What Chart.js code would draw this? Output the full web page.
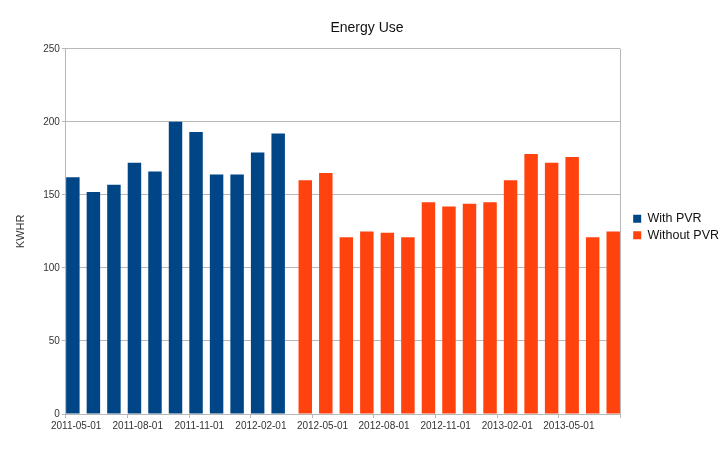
<!DOCTYPE html>
<html>
<head>
<meta charset="utf-8">
<script src="https://cdn.jsdelivr.net/npm/chart.js@4.4.0/dist/chart.umd.min.js"></script>
<style>
	html, body { margin: 0; padding: 0; background: #fff; }
	.container-canvas { width: 723px; height: 449px; }
</style>
</head>
<body>
<div class="container-canvas"><canvas id="myChart"></canvas></div>
<script>
// months from 2011-05 to 2013-07
const months = [
	"2011-05-01", "2011-06-01", "2011-07-01", "2011-08-01", "2011-09-01", "2011-10-01",
	"2011-11-01", "2011-12-01", "2012-01-01", "2012-02-01", "2012-03-01", "2012-04-01",
	"2012-05-01", "2012-06-01", "2012-07-01", "2012-08-01", "2012-09-01", "2012-10-01",
	"2012-11-01", "2012-12-01", "2013-01-01", "2013-02-01", "2013-03-01", "2013-04-01",
	"2013-05-01", "2013-06-01", "2013-07-01"
];
const withPvr = [162, 152, 157, 172, 166, 200, 193, 164, 164, 179, 192,
	null, null, null, null, null, null, null, null, null, null, null, null, null, null, null, null];
const withoutPvr = [null, null, null, null, null, null, null, null, null, null, null,
	160, 165, 121, 125, 124, 121, 145, 142, 144, 145, 160, 178, 172, 176, 121, 125];
const yTicks = [0, 50, 100, 150, 200, 250];

const gridColor = "#b8b8b8";
const textColor = "#333";
Chart.defaults.font.family = "'Liberation Sans', Arial, sans-serif";
Chart.defaults.color = textColor;

// push the legend a bit away from the plot
const legendShift = {
	id: 'legendShift',
	afterLayout(chart) {
		chart.legend.left += 9;
		chart.legend.right += 9;
		chart.legend.top += 10;
		chart.legend.bottom += 10;
	}
};

const ctx = document.getElementById('myChart');
const myChart = new Chart(ctx, {
	type: 'bar',
	data: {
		labels: months,
		datasets: [{
			label: 'With PVR',
			data: withPvr,
			backgroundColor: '#004586',
			borderWidth: 0
		}, {
			label: 'Without PVR',
			data: withoutPvr,
			backgroundColor: '#ff420e',
			borderWidth: 0
		}]
	},
	plugins: [legendShift],
	options: {
		responsive: true,
		maintainAspectRatio: false,
		animation: false,
		datasets: {
			bar: { categoryPercentage: 0.64, barPercentage: 2.05 }
		},
		layout: { padding: { left: 14, right: 3, top: 0, bottom: 15 } },
		plugins: {
			title: {
				display: true,
				text: 'Energy Use',
				color: '#111',
				font: { size: 14, weight: 'normal' },
				padding: { top: 20, bottom: 12 }
			},
			legend: {
				position: 'right',
				labels: {
					boxWidth: 8,
					boxHeight: 8,
					padding: 4,
					color: '#111',
					font: { size: 12.5 }
				}
			},
			tooltip: { enabled: false }
		},
		scales: {
			x: {
				grid: {
					offset: true,
					drawOnChartArea: true,
					color: c => c.index === undefined ? gridColor : 'transparent',
					tickColor: c => (c.index === undefined || c.index % 3 === 0) ? gridColor : 'transparent',
					tickLength: 4
				},
				border: { color: gridColor },
				ticks: {
					autoSkip: false,
					maxRotation: 0,
					padding: 2,
					font: { size: 10 },
					callback: (v, i) => i % 3 === 0 ? months[i] : ''
				}
			},
			y: {
				min: 0,
				max: 250,
				afterBuildTicks: axis => { axis.ticks = yTicks.map(v => ({ value: v })); },
				grid: { color: gridColor, tickLength: 4 },
				border: { color: gridColor },
				ticks: { padding: 2, font: { size: 10 } },
				title: {
					display: true,
					text: 'KWHR',
					font: { size: 11 },
					padding: { top: 0, bottom: 14 }
				}
			}
		}
	}
});
</script>
</body>
</html>
